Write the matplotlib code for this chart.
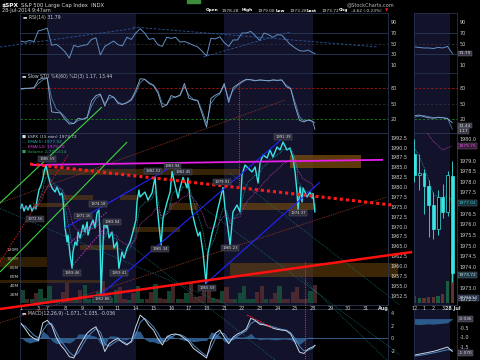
import matplotlib
matplotlib.use("Agg")
import matplotlib.pyplot as plt
from matplotlib.patches import Rectangle
import numpy as np
import pandas as pd

# ---------------- values ----------------
# $SPX 15 min path: position in sessions (0 = first label "1"), index level
spx_day = [0.00, 0.07, 0.19, 0.30, 0.41, 0.53, 0.64, 0.75, 0.86, 0.92, 1.03, 1.15, 1.26, 1.32, 1.43,
           1.54, 1.66, 1.77, 1.94, 2.05, 2.22, 2.33, 2.39, 2.50, 2.62, 2.67, 2.79, 2.90, 2.95, 3.07,
           3.18, 3.24, 3.35, 3.52, 3.63, 3.75, 3.80, 3.92, 4.08, 4.20, 4.31, 4.42, 4.48, 4.54, 4.65,
           4.71, 4.82, 4.88, 4.99, 5.16, 5.27, 5.44, 5.55, 5.72, 5.84, 6.01, 6.18, 6.34, 6.51, 6.57,
           6.68, 6.74, 7.02, 7.19, 7.42, 7.59, 7.70, 7.81, 7.93, 8.04, 8.27, 8.44, 8.55, 8.72, 8.89,
           9.00, 9.17, 9.40, 9.45, 9.56, 9.68, 9.85, 10.02, 10.13, 10.30, 10.47, 10.58, 10.81, 10.98,
           11.15, 11.26, 11.43, 11.54, 11.66, 11.83, 11.99, 12.22, 12.39, 12.50, 12.67, 12.84, 13.07,
           13.24, 13.41, 13.52, 13.69, 13.92, 14.08, 14.25, 14.48, 14.65, 14.82, 15.04, 15.21, 15.38,
           15.50, 15.61, 15.67, 15.78, 15.89, 15.95, 16.18, 16.34, 16.46, 16.51, 16.62]
spx_val = [1974.70, 1975.71, 1973.94, 1975.21, 1974.20, 1975.46, 1973.94, 1974.95, 1974.45, 1976.73,
           1979.26, 1980.52, 1982.30, 1983.82, 1985.59, 1983.06, 1981.03, 1979.77, 1978.75, 1980.02,
           1977.99, 1978.50, 1976.73, 1969.89, 1966.09, 1967.87, 1962.80, 1959.46, 1963.56, 1966.09,
           1965.33, 1968.63, 1967.11, 1970.40, 1968.63, 1971.16, 1967.87, 1969.89, 1971.66, 1969.64,
           1973.44, 1974.18, 1967.87, 1952.86, 1965.33, 1971.16, 1969.64, 1970.90, 1967.11, 1968.63,
           1964.58, 1966.09, 1959.41, 1963.56, 1962.04, 1964.58, 1966.09, 1968.63, 1971.66, 1976.22,
           1979.26, 1977.49, 1978.75, 1976.73, 1978.50, 1982.52, 1975.46, 1970.40, 1965.34, 1972.17,
           1976.22, 1978.75, 1983.94, 1980.52, 1977.23, 1979.77, 1982.45, 1979.77, 1982.30, 1977.23,
           1973.69, 1970.40, 1967.61, 1968.63, 1963.31, 1955.59, 1963.31, 1968.37, 1971.16, 1974.70,
           1976.73, 1979.91, 1974.70, 1971.16, 1965.23, 1973.69, 1975.46, 1973.69, 1983.06, 1985.59,
           1984.83, 1983.82, 1985.08, 1981.03, 1986.09, 1988.12, 1987.36, 1989.39, 1987.61, 1990.14,
           1989.39, 1991.39, 1989.39, 1989.89, 1987.36, 1983.82, 1978.75, 1974.37, 1980.02, 1976.22,
           1979.77, 1977.49, 1978.75, 1977.23, 1978.34, 1973.72]

# indicators sampled every quarter session, plus the last print
ind_day = list(np.arange(0, 16.75, 0.25)) + [16.62]
rsi = [55, 53, 56, 54, 74, 76, 79, 47, 49, 43, 35, 23, 47, 44, 47, 48, 58, 61, 29, 45,
       50, 55, 48, 46, 62, 58, 70, 78, 70, 58, 60, 48, 45, 62, 60, 62, 53, 54, 51, 47,
       44, 36, 27, 60, 59, 63, 52, 45, 57, 57, 70, 70, 73, 65, 56, 70, 67, 62, 67, 66,
       57, 48, 42, 37, 36, 38, 33, 31.79]
sto_k = [78, 79, 79, 80, 95, 98, 98, 34, 33, 32, 20, 11, 12, 22, 20, 24, 55, 65, 68, 45,
         66, 62, 50, 48, 52, 58, 75, 97, 96, 88, 84, 70, 43, 48, 65, 62, 66, 88, 60, 57,
         55, 30, 5, 60, 66, 70, 88, 52, 80, 86, 92, 96, 95, 93, 95, 94, 93, 95, 94, 95,
         82, 78, 45, 18, 15, 19, 16, 1.17]
sto_d = [77, 78, 79, 79, 88, 95, 98, 60, 40, 33, 25, 15, 12, 18, 20, 22, 45, 60, 66, 50,
         60, 62, 53, 49, 51, 56, 70, 90, 96, 90, 85, 74, 50, 47, 60, 62, 65, 82, 66, 58,
         56, 36, 12, 50, 62, 68, 84, 58, 75, 84, 90, 95, 95, 94, 94, 94, 93, 94, 94, 94,
         85, 79, 52, 25, 17, 18, 16, 13.44]
macd = [2.4, 1.5, 0.5, 0.0, -0.3, 2.4, 2.8, 2.0, 0.2, -1.0, -1.8, -2.8, -3.0, -1.5, -0.3, 0.8,
        1.4, 1.8, 0.2, -2.0, -0.8, -0.3, 0.0, -0.6, -1.0, -0.4, 1.8, 3.6, 3.0, 2.0, 1.3, 0.0,
        -1.0, 0.2, 0.6, 0.7, 0.5, 0.0, -0.5, -1.5, -2.0, -2.5, -3.0, -0.5, 0.8, 1.3, 0.2, -0.8,
        0.2, 0.7, 1.0, 1.5, 3.1, 2.8, 2.2, 2.1, 1.9, 1.6, 1.4, 1.3, 1.2, 0.7, -0.6, -2.1, -2.3,
        -1.6, -1.3, -1.07]
macd_sig = [2.2, 1.9, 1.2, 0.5, 0.1, 1.2, 2.2, 2.3, 1.0, -0.3, -1.2, -2.1, -2.7, -2.2, -1.0, 0.1,
            0.9, 1.5, 1.0, -0.8, -1.2, -0.7, -0.3, -0.4, -0.8, -0.6, 0.6, 2.5, 3.1, 2.5, 1.8, 0.8,
            -0.4, -0.4, 0.2, 0.6, 0.6, 0.3, -0.2, -1.0, -1.6, -2.2, -2.7, -1.5, 0.0, 0.9, 0.7, -0.2,
            -0.2, 0.4, 0.8, 1.2, 2.3, 2.7, 2.4, 2.2, 2.0, 1.8, 1.6, 1.4, 1.3, 0.9, 0.0, -1.2, -1.9,
            -1.8, -1.5, -1.03]
# volume (millions) per quarter session
volume = [30, 9, 8, 22, 32, 12,
          38, 10, 8, 24, 45, 12, 10, 28, 40, 9, 8, 25, 48, 14, 11, 30, 36, 9, 7, 22,
          37, 9, 8, 24, 42, 11, 10, 27, 38, 10, 8, 23, 44, 13, 15, 33, 40, 11, 9, 26,
          36, 9, 8, 22, 38, 9, 8, 24, 37, 9, 8, 22, 38, 9, 9, 25, 36, 10, 8, 26,
          40]

# session axis labels
day_ticks = [0, 1, 1.5, 2.5, 3.5, 4.5, 5.5, 6.5, 7.5, 8.5, 9.5, 10.5, 11.5, 12.5, 13.5,
             14.5, 15.5, 16.5, 17.5, 18.5, 19.5, 20.5]
day_labels = ["1", "3", "7", "8", "9", "10", "11", "14", "15", "16", "17", "18", "21", "22",
              "23", "24", "25", "28", "29", "30", "31", "Aug"]
shaded_weeks = [(1.5, 6.5), (11.5, 16.5)]

# annotated highs / lows: text, session, level where the tag sits
pivot_tags = [("1985.59", 1.49, 1987.1), ("1972.56", 0.80, 1972.0), ("1959.46", 2.90, 1958.2),
              ("1971.16", 3.52, 1972.7), ("1974.18", 4.37, 1975.7), ("1969.04", 5.16, 1971.2),
              ("1952.86", 4.59, 1951.7), ("1959.41", 5.56, 1958.2), ("1982.52", 7.47, 1984.1),
              ("1983.94", 8.56, 1985.3), ("1982.45", 9.17, 1983.8), ("1965.34", 7.87, 1964.3),
              ("1955.59", 10.52, 1954.4), ("1979.91", 11.37, 1981.3), ("1965.23", 11.82, 1964.6),
              ("1991.39", 14.82, 1992.7), ("1974.37", 15.67, 1973.4)]

# support / resistance zones: session from, to, level low, high, strength
zones = [(1.2, 12.4, 1983.0, 1984.6, 0.45), (15.2, 19.2, 1984.8, 1988.1, 0.75),
         (0.7, 2.6, 1974.9, 1976.0, 0.5), (8.4, 10.0, 1974.2, 1976.0, 0.5),
         (12.4, 16.7, 1974.2, 1976.0, 0.6), (2.4, 4.1, 1976.7, 1978.0, 0.45),
         (5.6, 6.6, 1976.7, 1978.0, 0.45), (3.35, 5.45, 1964.1, 1965.3, 0.45),
         (6.3, 9.0, 1968.6, 1969.9, 0.45), (11.8, 21.3, 1957.2, 1960.8, 0.5),
         (-1.17, 1.5, 1959.8, 1962.3, 0.4), (-1.17, 4.6, 1955.7, 1956.5, 0.4)]

# drawn trend lines: [s0, s1], [level0, level1]
red_base = ([-1.17, 22.11], [1949.13, 1963.56])
red_dots = ([0.53, 20.98], [1985.84, 1975.46])
magenta_top = ([0.64, 20.47], [1985.59, 1986.90])
brown_low = ([-1.17, 20.69], [1945.59, 1977.49])
brown_up = ([-1.17, 14.93], [1975.97, 2002.04])
red_steep = ([-1.17, 2.67], [1961.03, 1988.12])
greens = [([-1.17, 4.59], [1975.97, 2000.27]), ([-1.17, 6.01], [1958.50, 1991.41])]
blues = [([2.50, 8.89], [1969.64, 1986.09]), ([4.54, 14.82], [1952.86, 1992.42]),
         ([10.47, 16.91], [1955.59, 1981.28])]
pink_channel = [([2.62, 4.88], [1965.33, 1973.69]), ([2.95, 5.04], [1960.27, 1971.16])]
teal_fan = [([-1.17, 11.83], [1974.57, 1949.89]), ([6.18, 14.37], [1965.33, 1936.22]),
            ([10.13, 21.43], [1975.46, 1937.49]), ([11.83, 21.43], [1983.56, 1950.14]),
            ([15.78, 21.43], [1957.49, 1932.93])]
rsi_lines = [([-1.17, 6.57], [43.8, 79.3]), ([6.35, 20.2], [81.2, 43.8]), ([10.31, 15.21], [25.1, 71.9])]
macd_div = ([12.78, 14.25], [3.62, 1.62])

# right-hand zoom: 30 min bars, Jul 25 12:00 .. Jul 28 9:30
mini_open = [1979.3, 1978.3, 1978.4, 1977.8, 1976.9, 1975.8, 1977.3, 1976.6, 1978.28]
mini_high = [1980.0, 1979.3, 1978.6, 1978.1, 1977.5, 1977.6, 1977.9, 1978.5, 1979.00]
mini_low = [1978.0, 1977.6, 1976.5, 1975.4, 1975.3, 1975.5, 1976.3, 1976.4, 1973.28]
mini_close = [1978.3, 1978.4, 1977.8, 1976.9, 1975.8, 1977.3, 1976.6, 1978.34, 1973.72]
mini_vol = [15, 12, 12, 14, 13, 15, 20, 50, 105]
mini_ema5 = [1979.6, 1979.2, 1978.7, 1978.1, 1977.4, 1977.3, 1977.1, 1977.5, 1977.02]
mini_ema14 = [1981.4, 1981.0, 1980.6, 1980.2, 1979.9, 1979.7, 1979.5, 1979.6, 1979.70]
mini_rsi = [44, 43, 42, 42, 41, 43, 42, 45, 31.79]
mini_k = [27, 28, 25, 23, 22, 24, 23, 21, 13.44]
mini_d = [24, 26, 27, 25, 23, 23, 23, 22, 1.17]
mini_macd = [-1.95, -1.90, -1.85, -1.80, -1.75, -1.68, -1.60, -1.52, -1.75]
mini_sig = [-2.00, -1.97, -1.93, -1.88, -1.83, -1.78, -1.72, -1.66, -1.68]
mini_hist = [-0.30, -0.32, -0.30, -0.28, -0.30, -0.27, -0.25, -0.22, -0.036]
mini_ticks = [0, 2, 4, 6, 8]
mini_labels = ["12", "1", "2", "3", "28 Jul"]

# ---------------- figure ----------------
NAVY = "#12122a"
LBL = "#cfcfcf"
fig = plt.figure(figsize=(4.8, 3.6), dpi=100, facecolor="black")


def panel(x0, y0, x1, y1, z=1, face="black"):
    ax = fig.add_axes([x0 / 480, 1 - y1 / 360, (x1 - x0) / 480, (y1 - y0) / 360], zorder=z)
    ax.set_facecolor(face)
    for s in ax.spines.values():
        s.set_color("#26324c")
        s.set_linewidth(0.6)
    ax.tick_params(length=0, labelsize=3.5, colors=LBL, pad=2)
    ax.yaxis.tick_right()
    ax.set_xticks([])
    return ax


def shade(ax, spans):
    for a, b in spans:
        ax.axvspan(a, b, color=NAVY, lw=0, zorder=0)


def line(ax, seg, **kw):
    ax.plot(seg[0], seg[1], clip_on=False, solid_capstyle="butt", **kw)


XL = (-0.04, 20.75)
MXL = (-0.1, 9.0)

# --- RSI ---
ax_r = panel(20, 13, 388, 73)
ax_r.set_xlim(XL)
ax_r.set_ylim(-4.8, 107.4)
shade(ax_r, shaded_weeks)
for lv in (70, 30):
    ax_r.axhline(lv, color="#2a3a5a", lw=0.6)
ax_r.axhline(50, color="#3a3a4a", lw=0.5, ls=(0, (3, 3)))
ax_r.plot(ind_day, rsi, color="#5f8fc4", lw=0.7)
for seg in rsi_lines:
    line(ax_r, seg, color="#2a5aa0", lw=0.6, ls=(0, (3, 2)))
ax_r.set_yticks([90, 70, 50, 30, 10])
ax_r.text(0.008, 0.96, "\u25ac RSI(14) 31.79", transform=ax_r.transAxes, fontsize=3.3,
          color="#c8d0dc", va="top")

# --- Slow stochastic ---
ax_s = panel(20, 73, 388, 133)
ax_s.set_xlim(XL)
ax_s.set_ylim(-6.0, 107.9)
shade(ax_s, shaded_weeks)
ax_s.axhline(80, color="#a01818", lw=0.6, ls=(0, (3, 2)))
ax_s.axhline(50, color="#3a3a4a", lw=0.5, ls=(0, (3, 3)))
ax_s.axhline(20, color="#1a801a", lw=0.6, ls=(0, (3, 2)))
ax_s.plot(ind_day, sto_d, color="#4f7fb0", lw=0.6)
ax_s.plot(ind_day, sto_k, color="#8fb0d4", lw=0.6)
ax_s.set_yticks([80, 50, 20])
ax_s.text(0.005, 0.985, "\u25ac Slow STO %K(60) %D(3) 1.17, 13.44", transform=ax_s.transAxes,
          fontsize=3.3, color="#c8d0dc", va="top")

# --- MACD ---
ax_m = panel(20, 309, 388, 360)
ax_m.set_xlim(XL)
ax_m.set_ylim(-3.31, 4.54)
shade(ax_m, shaded_weeks)
hist = np.array(macd) - np.array(macd_sig)
ax_m.fill_between(ind_day, 0, hist, color="#2b5a8c", lw=0)
ax_m.axhline(0, color="#3f6a9a", lw=0.6)
ax_m.plot(ind_day, macd_sig, color="#4f86c0", lw=0.7)
ax_m.plot(ind_day, macd, color="#c8d8e8", lw=0.7)
line(ax_m, macd_div, color="#ff2020", lw=0.7, ls=(0, (2, 1)))
ax_m.set_yticks([4, 2, 0, -2])
ax_m.set_yticklabels(["4", "2", "0", "-2"])
ax_m.text(0.005, 0.97, "\u25ac MACD(12,26,9) -1.071, -1.035, -0.036", transform=ax_m.transAxes,
          fontsize=3.3, color="#c8d0dc", va="top")

# --- price panel: background + volume layer ---
ax_v = panel(20, 133, 388, 305, z=2)
ax_v.set_xlim(XL)
ax_v.set_ylim(-4.4, 377.8)
shade(ax_v, shaded_weeks)
vol_up = [True] + [rsi[i] >= rsi[i - 1] for i in range(1, len(volume))]
ax_v.bar(ind_day[:len(volume)], volume, width=0.24, align="edge",
         color=["#1a5c40" if u else "#5c3232" for u in vol_up], lw=0, alpha=0.75)
ax_v.yaxis.tick_left()
ax_v.set_yticks([20, 40, 60, 80, 100, 120])
ax_v.set_yticklabels(["20M", "40M", "60M", "80M", "100M", "120M"])
ax_v.tick_params(labelsize=3.2, pad=1)

# --- price layer ---
ax_p = panel(20, 133, 388, 305, z=3, face="none")
ax_p.set_xlim(XL)
ax_p.set_ylim(1950.14, 1993.69)
for d0, d1, lo, hi, al in zones:
    ax_p.add_patch(Rectangle((d0, lo), d1 - d0, hi - lo, color="#7a4d0c", alpha=al, lw=0,
                             clip_on=False, zorder=1))
for seg in teal_fan:
    line(ax_p, seg, color="#178888", lw=0.5, ls=(0, (1, 1.5)), zorder=2)
line(ax_p, brown_low, color="#a0402c", lw=0.6, ls=(0, (1, 1.2)), zorder=2)
line(ax_p, brown_up, color="#a0402c", lw=0.6, ls=(0, (1, 1.2)), zorder=2)

spx = pd.Series(spx_val)
ax_p.plot(spx_day, spx_val, color="#38e4e4", lw=1.0, zorder=3)
ax_p.plot(spx_day, spx.ewm(span=5).mean(), color="#1a9a9a", lw=0.6, ls=(0, (1, 1)), zorder=3)
ax_p.plot(spx_day, spx.ewm(span=14).mean(), color="#b040b0", lw=0.6, ls=(0, (1, 1)), zorder=3)

line(ax_p, red_steep, color="#e01818", lw=0.6, ls=(0, (2, 1.5)), zorder=4)
for seg in greens:
    line(ax_p, seg, color="#3ed23e", lw=0.8, zorder=4)
for seg in blues:
    line(ax_p, seg, color="#2424ff", lw=0.8, zorder=4)
for seg in pink_channel:
    line(ax_p, seg, color="#d030d0", lw=0.6, ls=(0, (2, 1.5)), zorder=4)
line(ax_p, magenta_top, color="#e81ee8", lw=1.3, zorder=4)
line(ax_p, red_dots, color="#ff1a1a", lw=2.2, ls=(0, (1, 1)), zorder=4)
line(ax_p, red_base, color="#ff1010", lw=1.8, zorder=5)
ax_p.plot([12.33, 12.33], [1980.5, 2007.1], color="#ff2020", lw=0.8, ls=(0, (1, 1)),
          clip_on=False, zorder=5)
ax_p.plot([16.06, 16.06], [1961.0, 1936.2], color="#ff2020", lw=0.8, ls=(0, (1, 1)),
          clip_on=False, zorder=5)

for txt, d, lv in pivot_tags:
    ax_p.text(d, lv, txt, fontsize=2.7, color="#e0e0e0", ha="center", va="center", zorder=6,
              bbox=dict(boxstyle="square,pad=0.25", fc="#2c2c3a", ec="#60606e", lw=0.3))

ax_p.set_yticks(np.arange(1952.5, 1993, 2.5))
ax_p.set_yticklabels([f"{v:.1f}" for v in np.arange(1952.5, 1993, 2.5)])
ax_p.set_xticks(day_ticks)
ax_p.set_xticklabels(day_labels)
ax_p.tick_params(axis="x", labelsize=3.5, pad=1)
ax_p.get_xticklabels()[-1].set_fontweight("bold")
legend_rows = [("\u25a0 $SPX (15 min) 1973.72", "#d0dce8"), ("- - EMA(5) 1977.02", "#1fb0b0"),
               ("- - EMA(14) 1979.70", "#d040d0"), ("\u25a0 Volume 2,775,614", "#2fa060")]
for i, (t, c) in enumerate(legend_rows):
    ax_p.text(0.006, 0.99 - i * 0.029, t, transform=ax_p.transAxes, fontsize=3.1, color=c,
              va="top", zorder=7)

# ---------------- right-hand zoom panels ----------------
mx = np.arange(len(mini_close))
m_r = panel(414, 13, 457, 73)
m_s = panel(414, 73, 457, 133)
m_v = panel(414, 133, 457, 305, z=2)
m_p = panel(414, 133, 457, 305, z=3, face="none")
m_m = panel(414, 309, 457, 360)
for ax in (m_r, m_s, m_v, m_p, m_m):
    ax.set_xlim(MXL)
for ax in (m_r, m_s, m_v, m_m):
    shade(ax, [(-1, 7.5)])

m_r.set_ylim(-4.8, 107.4)
for lv in (70, 30):
    m_r.axhline(lv, color="#2a3a5a", lw=0.6)
m_r.axhline(50, color="#3a3a4a", lw=0.5, ls=(0, (3, 3)))
m_r.plot(mx, mini_rsi, color="#5f8fc4", lw=0.7)
m_r.set_yticks([90, 70, 50, 10])

m_s.set_ylim(-6.0, 107.9)
m_s.axhline(80, color="#a01818", lw=0.6, ls=(0, (3, 2)))
m_s.axhline(50, color="#3a3a4a", lw=0.5, ls=(0, (3, 3)))
m_s.axhline(20, color="#1a801a", lw=0.6, ls=(0, (3, 2)))
m_s.plot(mx, mini_d, color="#4f7fb0", lw=0.6)
m_s.plot(mx, mini_k, color="#8fb0d4", lw=0.6)
m_s.set_yticks([80, 50, 20])

m_v.set_ylim(-4.4, 377.8)
m_v.bar(mx, mini_vol, width=0.7,
        color=["#1a5c40" if c >= o else "#5c3232" for o, c in zip(mini_open, mini_close)], lw=0)
m_v.set_yticks([])

m_p.set_ylim(1972.2, 1980.3)
m_p.vlines(mx, mini_low, mini_high, color="#38e4e4", lw=0.6, zorder=3)
for i in mx:
    o, c = mini_open[i], mini_close[i]
    up = c >= o
    m_p.add_patch(Rectangle((i - 0.3, min(o, c)), 0.6, abs(c - o), zorder=4, lw=0.5,
                            ec="#38e4e4", fc="black" if up else "#38e4e4"))
m_p.plot(mx, mini_ema5, color="#1a9a9a", lw=0.6, ls=(0, (1, 1)), zorder=3)
m_p.plot(mx, mini_ema14, color="#b040b0", lw=0.6, ls=(0, (1, 1)), zorder=3)
mini_levels = [1980.0, 1979.0, 1978.5, 1978.0, 1977.5, 1976.5, 1976.0, 1975.5, 1975.0, 1974.5,
               1974.0, 1973.0, 1972.5]
m_p.set_yticks(mini_levels)
m_p.set_yticklabels([f"{v:.1f}" for v in mini_levels])
m_p.set_xticks(mini_ticks)
m_p.set_xticklabels(mini_labels)
m_p.tick_params(axis="x", labelsize=3.5, pad=1)
m_p.get_xticklabels()[-1].set_fontweight("bold")

m_m.set_ylim(-2.21, 0.51)
m_m.fill_between(mx, 0, mini_hist, color="#2b5a8c", lw=0)
m_m.plot(mx, mini_sig, color="#4f86c0", lw=0.7)
m_m.plot(mx, mini_macd, color="#c8d8e8", lw=0.7)
m_m.set_yticks([-0.5, -1.0, -1.5])
m_m.set_yticklabels(["-0.5", "-1.0", "-1.5"])

# value tags on the right scale of the zoom panels
tags = [(m_r, 31.79, "31.79", "#3a3a48", "#e0e0e0"), (m_s, 8.0, "13.44", "#3a3a48", "#e0e0e0"),
        (m_s, -2.0, "1.17", "#3a3a48", "#e0e0e0"), (m_p, 1979.70, "1979.70", "#3a1a3a", "#e060e0"),
        (m_p, 1977.02, "1977.02", "#12303a", "#40d0d0"), (m_p, 1973.60, "1973.72", "#1a3a48", "#e0e0e0"),
        (m_m, -0.036, "-0.036", "#3a3a48", "#e0e0e0"), (m_m, -1.85, "-1.070", "#3a3a48", "#e0e0e0")]
for ax, lv, t, fc, tc in tags:
    ax.text(1.04, lv, t, transform=ax.get_yaxis_transform(), fontsize=3.1, color=tc,
            va="center", ha="left", zorder=8, clip_on=False,
            bbox=dict(boxstyle="square,pad=0.2", fc=fc, ec="#70707e", lw=0.3))
m_v.text(1.04, 0.04, "2775614", transform=m_v.transAxes, fontsize=3.1, color="#e0e0e0",
         va="center", ha="left", zorder=8,
         bbox=dict(boxstyle="square,pad=0.2", fc="#20304a", ec="#70707e", lw=0.3))

# ---------------- header ----------------
def ftext(x, y, s, **kw):
    kw.setdefault("fontsize", 3.8)
    kw.setdefault("color", "#d8d8d8")
    fig.text(x / 480, 1 - y / 360, s, va="center", **kw)


ftext(2, 5, "$SPX", fontweight="bold", color="white", fontsize=4.2)
ftext(21, 5, "S&P 500 Large Cap Index  INDX", fontsize=3.8)
ftext(2, 10.5, "28-Jul-2014 9:47am", fontsize=3.5)
ftext(347, 4.5, "@StockCharts.com", fontsize=3.6, color="#b8b8b8")
for x, lab, val, gap in [(206, "Open", "1978.28", 15), (242, "High", "1979.00", 15),
                         (276, "Low", "1973.28", 13), (307, "Last", "1973.72", 14),
                         (339, "Chg", "-4.62 (-0.23%)", 12)]:
    ftext(x, 10.5, lab, fontweight="bold", color="white", fontsize=3.1)
    ftext(x + gap, 10.5, val, fontsize=3.1)
ftext(385, 10.5, "\u25bc", color="#ff2020", fontsize=3.0)
fig.patches.append(Rectangle((187 / 480, 1 - 3 / 360), 13 / 480, 3 / 360, color="#3c8c3c",
                             transform=fig.transFigure, figure=fig))

fig.savefig("out.png", dpi=100, facecolor="black")
